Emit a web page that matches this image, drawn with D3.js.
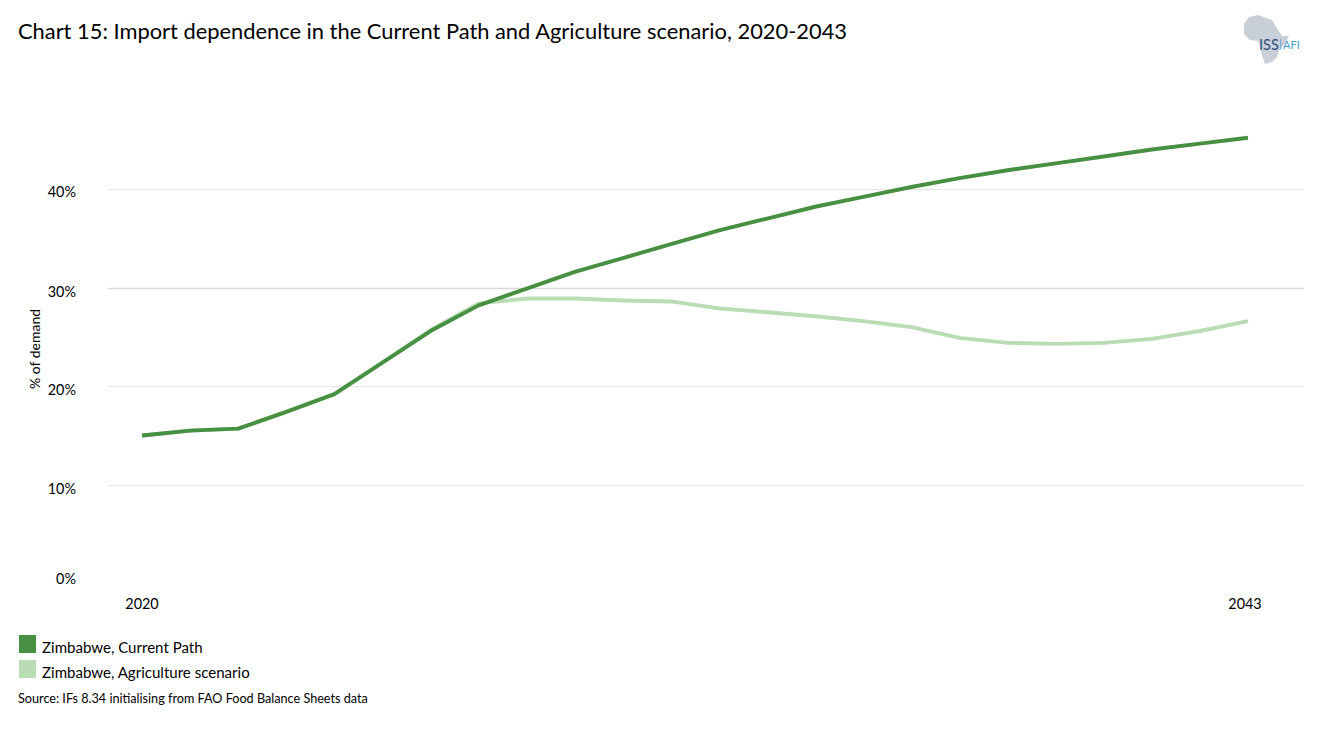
<!DOCTYPE html>
<html><head><meta charset="utf-8">
<script src="https://cdn.jsdelivr.net/npm/d3@7/dist/d3.min.js"></script>
<style>html,body{margin:0;padding:0;background:#fff}svg{display:block}text{font-family:Lato,"Open Sans",sans-serif;fill:#000}</style>
</head><body><svg id="c" width="1318" height="729"></svg>
<script>
const years = d3.range(2020, 2044);
const currentPath = [15.0,15.5,15.7,17.4,19.2,22.4,25.6,28.2,29.9,31.6,33.0,34.4,35.8,37.0,38.2,39.2,40.2,41.1,41.9,42.6,43.3,44.0,44.6,45.2];
const agriculture = [15.0,15.5,15.7,17.4,19.2,22.4,25.7,28.4,28.9,28.9,28.7,28.6,27.9,27.5,27.1,26.6,26.0,24.9,24.4,24.3,24.4,24.8,25.6,26.6];
const gridTicks = [10,20,30,40];
const yLabels = [0,10,20,30,40];
const xLabels = [2020,2043];
const seriesNames = ["Zimbabwe, Current Path","Zimbabwe, Agriculture scenario"];
const seriesColors = ["#478f41","#b9dcb4"];
const title = "Chart 15: Import dependence in the Current Path and Agriculture scenario, 2020-2043";
const source = "Source: IFs 8.34 initialising from FAO Food Balance Sheets data";

const svg = d3.select("#c");
const x = d3.scaleLinear().domain([2020,2043]).range([142,1248]);
const y = d3.scaleLinear().domain([0,40]).range([583.5,189]);

svg.append("text").attr("x",18).attr("y",39).attr("font-size",21.87).text(title);

svg.append("g").selectAll("line").data(gridTicks).join("line")
  .attr("x1",108).attr("x2",1304)
  .attr("y1",d=>Math.round(y(d))+0.5).attr("y2",d=>Math.round(y(d))+0.5)
  .attr("stroke",d=>d===30?"#d9d9d9":"#e6e6e6").attr("stroke-width",d=>d===30?1.4:1);

svg.append("g").selectAll("text").data(yLabels).join("text")
  .attr("x",76).attr("text-anchor","end").attr("font-size",14.4)
  .attr("y",d=>d===0?y(d)+0:d===40?y(d)+8:y(d)+9)
  .text(d=>d+"%");

svg.append("text").attr("transform","translate(40,349) rotate(-90)")
  .attr("text-anchor","middle").attr("font-size",14).text("% of demand");

svg.append("g").selectAll("text").data(xLabels).join("text")
  .attr("x",d=>d===2020?x(d):x(d)-3).attr("y",609).attr("text-anchor","middle")
  .attr("font-size",14.4).text(d=>d);

const line = d3.line().x((d,i)=>x(years[i])).y(d=>y(d));
[agriculture,currentPath].forEach((s,i)=>{
  svg.append("path").attr("d",line(s)).attr("fill","none")
    .attr("stroke",seriesColors[1-i]).attr("stroke-width",3.9).attr("stroke-linejoin","round");
});

const leg = svg.append("g").selectAll("g").data(seriesNames).join("g");
leg.append("rect").attr("x",19).attr("y",(d,i)=>635+i*25).attr("width",17).attr("height",18)
  .attr("fill",(d,i)=>seriesColors[i]);
leg.append("text").attr("x",42).attr("y",(d,i)=>653+i*25).attr("font-size",15.05).text(d=>d);

svg.append("text").attr("x",18).attr("y",703).attr("font-size",12.65).text(source);

// logo
const logo = svg.append("g");
logo.append("path").attr("fill","#c9cfd8")
  .attr("d","M1249 17 L1258 15 L1266 18 L1272 20 L1276 27 L1282 36 L1289 36 L1285 44 L1279 50 L1277 57 L1272 62 L1265 64 L1262 55 L1260 46 L1258 41 L1250 40 L1244 34 L1244 24 Z");
logo.append("text").attr("x",1259).attr("y",50).attr("font-size",14.5).style("fill","#2d4f7c").text("ISS");
logo.append("text").attr("x",1283).attr("y",49).attr("font-size",11).style("fill","#4a9bd0").text("AFI");
logo.append("line").attr("x1",1280.5).attr("x2",1280.5).attr("y1",39).attr("y2",50).attr("stroke","#4a9bd0").attr("stroke-width",0.7);
</script></body></html>
